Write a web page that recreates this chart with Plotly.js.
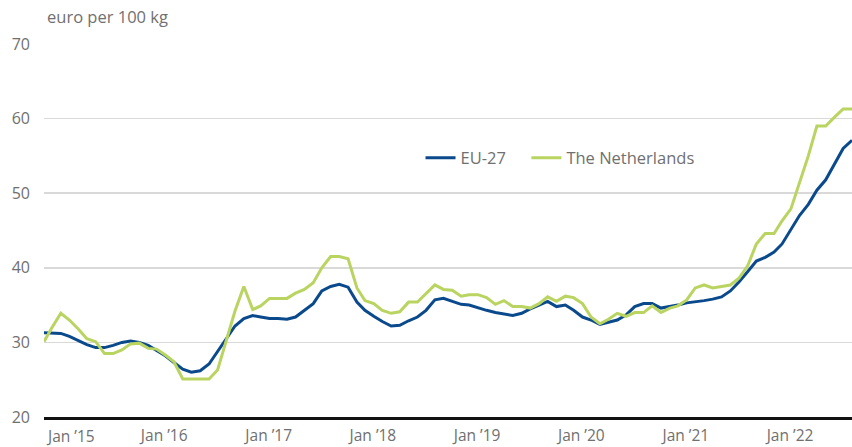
<!DOCTYPE html>
<html>
<head>
<meta charset="utf-8">
<script src="https://cdn.plot.ly/plotly-3.0.1.min.js"></script>
<style>html,body{margin:0;padding:0;background:#fff;}#chart{width:852px;height:447px;}</style>
</head>
<body>
<div id="chart"></div>
<script>
// Monthly series, Feb 2015 .. Nov 2022 (euro per 100 kg)
const startYear = 2015, startMonth = 2, nMonths = 94;
const eu27 = [31.3,31.3,31.2,30.8,30.2,29.7,29.3,29.3,29.6,30.0,30.2,
  30.0,29.6,28.9,28.2,27.3,26.4,26.0,26.2,27.1,28.8,30.5,32.2,
  33.2,33.6,33.4,33.2,33.2,33.1,33.4,34.3,35.2,36.9,37.5,37.8,
  37.4,35.4,34.3,33.5,32.8,32.2,32.3,32.9,33.4,34.3,35.7,35.9,
  35.5,35.1,35.0,34.6,34.3,34.0,33.8,33.6,33.9,34.5,35.0,35.5,
  34.8,35.0,34.3,33.4,33.0,32.4,32.7,33.0,33.7,34.8,35.2,35.2,
  34.6,34.8,35.0,35.3,35.4,35.6,35.8,36.1,36.9,38.1,39.5,40.9,
  41.4,42.1,43.2,45.2,47.0,48.5,50.4,51.8,53.9,56.0,57.1];
const netherlands = [30.1,32.0,33.9,33.0,31.8,30.5,30.1,28.5,28.5,29.0,29.8,
  29.9,29.2,29.1,28.3,27.4,25.1,25.1,25.1,25.1,26.3,30.2,34.2,
  37.5,34.4,34.9,35.9,35.9,35.9,36.6,37.1,38.0,40.0,41.5,41.5,
  41.2,37.3,35.6,35.2,34.3,33.9,34.1,35.4,35.4,36.6,37.7,37.1,
  37.0,36.2,36.4,36.4,36.0,35.1,35.6,34.8,34.8,34.6,35.2,36.1,
  35.5,36.2,36.0,35.2,33.4,32.5,33.1,33.9,33.5,34.0,34.0,34.9,
  34.0,34.6,34.9,35.7,37.3,37.7,37.3,37.5,37.7,38.6,40.3,43.2,
  44.6,44.6,46.3,47.9,51.4,55.0,59.0,59.0,60.2,61.3,61.3];
const tickDates = ['2016-01-01','2017-01-01','2018-01-01','2019-01-01','2020-01-01','2021-01-01','2022-01-01'];
const tickLabels = ['Jan \u201916','Jan \u201917','Jan \u201918','Jan \u201919','Jan \u201920','Jan \u201921','Jan \u201922'];
const firstLabel = 'Jan \u201915';
const yTicks = [20,30,40,50,60,70];
const unitLabel = 'euro per 100 kg';

const months = [];
for (let i = 0; i < nMonths; i++) {
  const t = startMonth - 1 + i;
  const y = startYear + Math.floor(t / 12), m = (t % 12) + 1;
  months.push(y + '-' + String(m).padStart(2, '0') + '-01');
}

const FONT = 'Open Sans, sans-serif';
const GREY = '#707070';

const traces = [
  {x: months, y: eu27, name: 'EU-27', type: 'scatter', mode: 'lines',
   line: {color: '#0a4a8c', width: 3}, legend: 'legend'},
  {x: months, y: netherlands, name: 'The Netherlands', type: 'scatter', mode: 'lines',
   line: {color: '#b9d461', width: 3}, legend: 'legend2'}
];

const legendFont = {family: FONT, size: 16.5, color: GREY};
const layout = {
  width: 852, height: 447,
  margin: {l: 44, r: 0, t: 44, b: 30},
  paper_bgcolor: '#fff', plot_bgcolor: '#fff',
  font: {family: FONT, size: 16, color: GREY},
  showlegend: true,
  legend: {orientation: 'h', x: 0.466, xanchor: 'left', y: 0.694, yanchor: 'middle',
           font: legendFont, itemwidth: 30, bgcolor: 'rgba(0,0,0,0)'},
  legend2: {orientation: 'h', x: 0.597, xanchor: 'left', y: 0.694, yanchor: 'middle',
           font: legendFont, itemwidth: 30, bgcolor: 'rgba(0,0,0,0)'},
  title: {text: unitLabel, xref: 'paper', x: 0, xanchor: 'left',
          yref: 'container', y: 0.962, yanchor: 'middle', pad: {l: 3},
          font: {family: FONT, size: 16.5, color: GREY}},
  xaxis: {type: 'date', range: [months[0], months[nMonths - 1]],
          tickvals: tickDates, ticktext: tickLabels,
          ticklabelposition: 'outside right', ticklabelstandoff: 2,
          showgrid: false, zeroline: false,
          showline: true, linecolor: '#111', linewidth: 3,
          ticks: '', tickfont: {family: FONT, size: 15.5, color: GREY},
          fixedrange: true},
  yaxis: {range: [20, 70], tickvals: yTicks, showgrid: true,
          gridcolor: '#d9d9d9', gridwidth: 1.5, zeroline: false,
          showline: false, ticks: '', ticklabelstandoff: 13,
          tickfont: {family: FONT, size: 16, color: GREY}, fixedrange: true},
  annotations: [
    {text: firstLabel, xref: 'paper', x: 0, xanchor: 'left',
     yref: 'paper', y: 0, yanchor: 'top', yshift: -6, showarrow: false,
     font: {family: FONT, size: 15.5, color: GREY}}
  ],
  hovermode: false
};

Plotly.newPlot('chart', traces, layout, {displayModeBar: false, staticPlot: true});
</script>
</body>
</html>
